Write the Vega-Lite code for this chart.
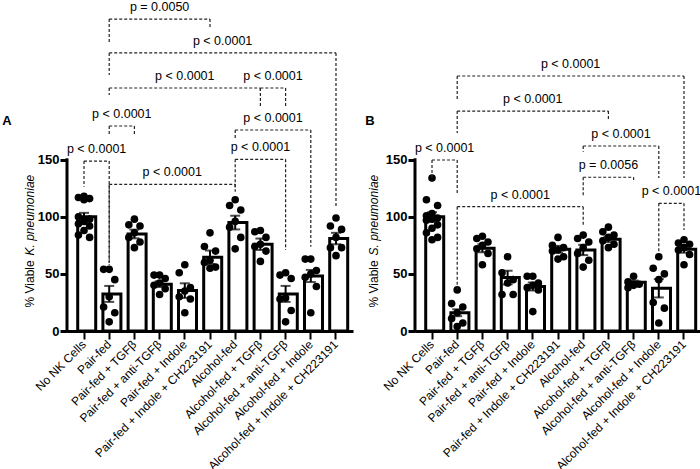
{
"$schema": "https://vega.github.io/schema/vega-lite/v6.json",
"padding": {"left": 2, "top": 0, "right": 0, "bottom": 5},
"config": {"view": {"stroke": null}, "font": "Liberation Sans", "axis": {"grid": false, "domainColor": "black", "tickColor": "black", "labelColor": "black", "titleColor": "black"}},
"spacing": 12,
"datasets": {
"summA": [
{"g": "No NK Cells", "mean": 100, "sem": 3.5},
{"g": "Pair-fed", "mean": 32.5, "sem": 7},
{"g": "Pair-fed + TGFβ", "mean": 85, "sem": 3.8},
{"g": "Pair-fed + anti-TGFβ", "mean": 41, "sem": 2.5},
{"g": "Pair-fed + Indole", "mean": 35.4, "sem": 6.4},
{"g": "Pair-fed + Indole + CH223191", "mean": 64.6, "sem": 5.9},
{"g": "Alcohol-fed", "mean": 95, "sem": 6},
{"g": "Alcohol-fed + TGFβ", "mean": 76, "sem": 5},
{"g": "Alcohol-fed + anti-TGFβ", "mean": 32.5, "sem": 7},
{"g": "Alcohol-fed + Indole", "mean": 48.2, "sem": 5.3},
{"g": "Alcohol-fed + Indole + CH223191", "mean": 81, "sem": 5}
],
"summB": [
{"g": "No NK Cells", "mean": 100, "sem": 4},
{"g": "Pair-fed", "mean": 16, "sem": 3},
{"g": "Pair-fed + TGFβ", "mean": 72.5, "sem": 3.5},
{"g": "Pair-fed + anti-TGFβ", "mean": 46.8, "sem": 6},
{"g": "Pair-fed + Indole", "mean": 39, "sem": 3.5},
{"g": "Pair-fed + Indole + CH223191", "mean": 71.6, "sem": 3},
{"g": "Alcohol-fed", "mean": 71, "sem": 4.5},
{"g": "Alcohol-fed + TGFβ", "mean": 80.4, "sem": 2.5},
{"g": "Alcohol-fed + anti-TGFβ", "mean": 42.7, "sem": 1.5},
{"g": "Alcohol-fed + Indole", "mean": 37.4, "sem": 8},
{"g": "Alcohol-fed + Indole + CH223191", "mean": 71.6, "sem": 3}
],
"ptsA": [
{"g": "No NK Cells", "v": 118}, {"g": "No NK Cells", "v": 117}, {"g": "No NK Cells", "v": 116}, {"g": "No NK Cells", "v": 115}, {"g": "No NK Cells", "v": 100}, {"g": "No NK Cells", "v": 98}, {"g": "No NK Cells", "v": 96}, {"g": "No NK Cells", "v": 94}, {"g": "No NK Cells", "v": 92}, {"g": "No NK Cells", "v": 88}, {"g": "No NK Cells", "v": 84}, {"g": "No NK Cells", "v": 82},
{"g": "Pair-fed", "v": 54}, {"g": "Pair-fed", "v": 54}, {"g": "Pair-fed", "v": 45}, {"g": "Pair-fed", "v": 30}, {"g": "Pair-fed", "v": 21}, {"g": "Pair-fed", "v": 16}, {"g": "Pair-fed", "v": 8},
{"g": "Pair-fed + TGFβ", "v": 98}, {"g": "Pair-fed + TGFβ", "v": 93}, {"g": "Pair-fed + TGFβ", "v": 92}, {"g": "Pair-fed + TGFβ", "v": 86}, {"g": "Pair-fed + TGFβ", "v": 82}, {"g": "Pair-fed + TGFβ", "v": 78}, {"g": "Pair-fed + TGFβ", "v": 73},
{"g": "Pair-fed + anti-TGFβ", "v": 49}, {"g": "Pair-fed + anti-TGFβ", "v": 49}, {"g": "Pair-fed + anti-TGFβ", "v": 46}, {"g": "Pair-fed + anti-TGFβ", "v": 42}, {"g": "Pair-fed + anti-TGFβ", "v": 40}, {"g": "Pair-fed + anti-TGFβ", "v": 37}, {"g": "Pair-fed + anti-TGFβ", "v": 32},
{"g": "Pair-fed + Indole", "v": 58}, {"g": "Pair-fed + Indole", "v": 51}, {"g": "Pair-fed + Indole", "v": 38}, {"g": "Pair-fed + Indole", "v": 35}, {"g": "Pair-fed + Indole", "v": 30}, {"g": "Pair-fed + Indole", "v": 28}, {"g": "Pair-fed + Indole", "v": 16},
{"g": "Pair-fed + Indole + CH223191", "v": 86}, {"g": "Pair-fed + Indole + CH223191", "v": 74}, {"g": "Pair-fed + Indole + CH223191", "v": 70}, {"g": "Pair-fed + Indole + CH223191", "v": 62}, {"g": "Pair-fed + Indole + CH223191", "v": 60}, {"g": "Pair-fed + Indole + CH223191", "v": 56}, {"g": "Pair-fed + Indole + CH223191", "v": 55},
{"g": "Alcohol-fed", "v": 115}, {"g": "Alcohol-fed", "v": 110}, {"g": "Alcohol-fed", "v": 106}, {"g": "Alcohol-fed", "v": 96}, {"g": "Alcohol-fed", "v": 91}, {"g": "Alcohol-fed", "v": 82}, {"g": "Alcohol-fed", "v": 72},
{"g": "Alcohol-fed + TGFβ", "v": 88}, {"g": "Alcohol-fed + TGFβ", "v": 87}, {"g": "Alcohol-fed + TGFβ", "v": 82}, {"g": "Alcohol-fed + TGFβ", "v": 76}, {"g": "Alcohol-fed + TGFβ", "v": 74}, {"g": "Alcohol-fed + TGFβ", "v": 70}, {"g": "Alcohol-fed + TGFβ", "v": 61},
{"g": "Alcohol-fed + anti-TGFβ", "v": 51}, {"g": "Alcohol-fed + anti-TGFβ", "v": 49}, {"g": "Alcohol-fed + anti-TGFβ", "v": 46}, {"g": "Alcohol-fed + anti-TGFβ", "v": 29}, {"g": "Alcohol-fed + anti-TGFβ", "v": 28}, {"g": "Alcohol-fed + anti-TGFβ", "v": 18}, {"g": "Alcohol-fed + anti-TGFβ", "v": 8},
{"g": "Alcohol-fed + Indole", "v": 63}, {"g": "Alcohol-fed + Indole", "v": 63}, {"g": "Alcohol-fed + Indole", "v": 53}, {"g": "Alcohol-fed + Indole", "v": 50}, {"g": "Alcohol-fed + Indole", "v": 47}, {"g": "Alcohol-fed + Indole", "v": 39}, {"g": "Alcohol-fed + Indole", "v": 16},
{"g": "Alcohol-fed + Indole + CH223191", "v": 99}, {"g": "Alcohol-fed + Indole + CH223191", "v": 92}, {"g": "Alcohol-fed + Indole + CH223191", "v": 89}, {"g": "Alcohol-fed + Indole + CH223191", "v": 82}, {"g": "Alcohol-fed + Indole + CH223191", "v": 73}, {"g": "Alcohol-fed + Indole + CH223191", "v": 73}, {"g": "Alcohol-fed + Indole + CH223191", "v": 66}
],
"ptsB": [
{"g": "No NK Cells", "v": 134}, {"g": "No NK Cells", "v": 115}, {"g": "No NK Cells", "v": 110}, {"g": "No NK Cells", "v": 103}, {"g": "No NK Cells", "v": 101}, {"g": "No NK Cells", "v": 99}, {"g": "No NK Cells", "v": 98}, {"g": "No NK Cells", "v": 97}, {"g": "No NK Cells", "v": 93}, {"g": "No NK Cells", "v": 90}, {"g": "No NK Cells", "v": 86}, {"g": "No NK Cells", "v": 82}, {"g": "No NK Cells", "v": 80},
{"g": "Pair-fed", "v": 36}, {"g": "Pair-fed", "v": 24}, {"g": "Pair-fed", "v": 21}, {"g": "Pair-fed", "v": 16}, {"g": "Pair-fed", "v": 11}, {"g": "Pair-fed", "v": 7}, {"g": "Pair-fed", "v": 4},
{"g": "Pair-fed + TGFβ", "v": 83}, {"g": "Pair-fed + TGFβ", "v": 81}, {"g": "Pair-fed + TGFβ", "v": 78}, {"g": "Pair-fed + TGFβ", "v": 75}, {"g": "Pair-fed + TGFβ", "v": 72}, {"g": "Pair-fed + TGFβ", "v": 68}, {"g": "Pair-fed + TGFβ", "v": 58},
{"g": "Pair-fed + anti-TGFβ", "v": 65}, {"g": "Pair-fed + anti-TGFβ", "v": 51}, {"g": "Pair-fed + anti-TGFβ", "v": 45}, {"g": "Pair-fed + anti-TGFβ", "v": 42}, {"g": "Pair-fed + anti-TGFβ", "v": 32}, {"g": "Pair-fed + anti-TGFβ", "v": 32},
{"g": "Pair-fed + Indole", "v": 48}, {"g": "Pair-fed + Indole", "v": 48}, {"g": "Pair-fed + Indole", "v": 42}, {"g": "Pair-fed + Indole", "v": 40}, {"g": "Pair-fed + Indole", "v": 38}, {"g": "Pair-fed + Indole", "v": 36}, {"g": "Pair-fed + Indole", "v": 17},
{"g": "Pair-fed + Indole + CH223191", "v": 82}, {"g": "Pair-fed + Indole + CH223191", "v": 75}, {"g": "Pair-fed + Indole + CH223191", "v": 73}, {"g": "Pair-fed + Indole + CH223191", "v": 71}, {"g": "Pair-fed + Indole + CH223191", "v": 70}, {"g": "Pair-fed + Indole + CH223191", "v": 65}, {"g": "Pair-fed + Indole + CH223191", "v": 63},
{"g": "Alcohol-fed", "v": 84}, {"g": "Alcohol-fed", "v": 81}, {"g": "Alcohol-fed", "v": 78}, {"g": "Alcohol-fed", "v": 73}, {"g": "Alcohol-fed", "v": 68}, {"g": "Alcohol-fed", "v": 62}, {"g": "Alcohol-fed", "v": 56},
{"g": "Alcohol-fed + TGFβ", "v": 91}, {"g": "Alcohol-fed + TGFβ", "v": 87}, {"g": "Alcohol-fed + TGFβ", "v": 84}, {"g": "Alcohol-fed + TGFβ", "v": 82}, {"g": "Alcohol-fed + TGFβ", "v": 79}, {"g": "Alcohol-fed + TGFβ", "v": 76}, {"g": "Alcohol-fed + TGFβ", "v": 73},
{"g": "Alcohol-fed + anti-TGFβ", "v": 48}, {"g": "Alcohol-fed + anti-TGFβ", "v": 43}, {"g": "Alcohol-fed + anti-TGFβ", "v": 41}, {"g": "Alcohol-fed + anti-TGFβ", "v": 40}, {"g": "Alcohol-fed + anti-TGFβ", "v": 38},
{"g": "Alcohol-fed + Indole", "v": 65}, {"g": "Alcohol-fed + Indole", "v": 55}, {"g": "Alcohol-fed + Indole", "v": 50}, {"g": "Alcohol-fed + Indole", "v": 45}, {"g": "Alcohol-fed + Indole", "v": 25}, {"g": "Alcohol-fed + Indole", "v": 20}, {"g": "Alcohol-fed + Indole", "v": 7},
{"g": "Alcohol-fed + Indole + CH223191", "v": 80}, {"g": "Alcohol-fed + Indole + CH223191", "v": 77}, {"g": "Alcohol-fed + Indole + CH223191", "v": 76}, {"g": "Alcohol-fed + Indole + CH223191", "v": 73}, {"g": "Alcohol-fed + Indole + CH223191", "v": 71}, {"g": "Alcohol-fed + Indole + CH223191", "v": 67}, {"g": "Alcohol-fed + Indole + CH223191", "v": 58}
],
"brA": [
{"from": 1, "to": 5, "top": 273.3, "l": 251.4, "r": 265.5, "label": "p = 0.0050"},
{"from": 1, "to": 10, "top": 243.6, "l": 224.3, "r": 108.6, "label": "p < 0.0001"},
{"from": 1, "to": 7, "top": 212.9, "l": 206.8, "r": 208.5, "label": "p < 0.0001"},
{"from": 7, "to": 8, "top": 212.9, "l": 197.1, "r": 197.1, "label": "p < 0.0001"},
{"from": 6, "to": 9, "top": 176.1, "l": 169.1, "r": 73.9, "label": "p < 0.0001"},
{"from": 6, "to": 8, "top": 150.4, "l": 125.3, "r": 71, "label": "p < 0.0001"},
{"from": 1, "to": 6, "top": 128.5, "l": 57.8, "r": 122, "label": "p < 0.0001"},
{"from": 0, "to": 1, "top": 148.9, "l": 126.4, "r": 59.6, "label": "p < 0.0001"},
{"from": 1, "to": 2, "top": 179.6, "l": 171.7, "r": 171.7, "label": "p < 0.0001"}
],
"brB": [
{"from": 1, "to": 10, "top": 223.4, "l": 202.4, "r": 134, "label": "p < 0.0001"},
{"from": 1, "to": 7, "top": 192.7, "l": 173.5, "r": 184.9, "label": "p < 0.0001"},
{"from": 6, "to": 9, "top": 162.1, "l": 157.1, "r": 134, "label": "p < 0.0001"},
{"from": 6, "to": 8, "top": 134.7, "l": 117.7, "r": 132.3, "label": "p = 0.0056"},
{"from": 1, "to": 6, "top": 108.9, "l": 35.9, "r": 92.9, "label": "p < 0.0001"},
{"from": 9, "to": 10, "top": 111.9, "l": 68.3, "r": 88.5, "label": "p < 0.0001"},
{"from": 0, "to": 1, "top": 149.8, "l": 130.8, "r": 119.2, "label": "p < 0.0001"}
]
},
"hconcat": [
{
"width": 286, "height": 331,
"title": {"text": "A", "orient": "left", "anchor": "end", "angle": 0, "fontSize": 13, "fontWeight": "bold", "offset": 2, "dy": 128, "baseline": "bottom", "align": "right", "color": "black"},
"layer": [
{"layer": [
{"data": {"name": "summA"},
"mark": {"type": "bar", "fill": "white", "stroke": "black", "strokeWidth": 3},
"encoding": {
"x": {"field": "g", "type": "nominal", "title": null, "scale": {"domain": ["No NK Cells","Pair-fed","Pair-fed + TGFβ","Pair-fed + anti-TGFβ","Pair-fed + Indole","Pair-fed + Indole + CH223191","Alcohol-fed","Alcohol-fed + TGFβ","Alcohol-fed + anti-TGFβ","Alcohol-fed + Indole","Alcohol-fed + Indole + CH223191"], "paddingInner": 0.5, "paddingOuter": 0.425, "round": false},
"axis": {"labelAngle": -45, "labelAlign": "right", "labelBaseline": "middle", "labelFontSize": 12, "labelPadding": 3, "tickSize": 8, "tickWidth": 2, "domainWidth": 3, "labelLimit": 300, "labelOverlap": false}},
"y": {"field": "mean", "type": "quantitative", "title": "% Viable", "scale": {"domain": [0, 290], "nice": false},
"axis": {"orient": "left", "values": [0, 50, 100, 150], "domain": false, "tickSize": 7, "tickWidth": 3, "labelFontSize": 13, "labelFontWeight": "bold", "labelPadding": 1, "titleFontSize": 12, "titleFontWeight": "normal", "titleAngle": 270, "titleAlign": "left", "titleBaseline": "middle", "titleX": -38, "titleY": 307}}
}},
{"data": {"name": "summA"},
"mark": {"type": "errorbar", "ticks": {"size": 10, "thickness": 2}, "rule": {"strokeWidth": 2}, "color": "black"},
"encoding": {"x": {"field": "g", "type": "nominal"}, "y": {"field": "mean", "type": "quantitative", "title": "% Viable"}, "yError": {"field": "sem"}}},
{"data": {"name": "ptsA"},
"transform": [{"window": [{"op": "row_number", "as": "r"}], "groupby": ["g"], "sort": [{"field": "v", "order": "descending"}]}, {"calculate": "datum.r % 3 == 0 ? 0.6 : (datum.r % 3 == 1 ? 0 : -0.6)", "as": "off"}],
"mark": {"type": "circle", "size": 58, "color": "black", "opacity": 1},
"encoding": {"x": {"field": "g", "type": "nominal"}, "xOffset": {"field": "off", "type": "quantitative", "scale": {"domain": [-1, 1], "range": [-3, 15.6]}}, "y": {"field": "v", "type": "quantitative", "title": "% Viable"}}}
]},
{"data": {"name": "brA"},
"transform": [{"calculate": "(datum.from + datum.to) / 2", "as": "mid"}],
"layer": [
{"mark": {"type": "rule", "strokeDash": [3, 2], "strokeWidth": 1.2, "color": "#222"},
"encoding": {"x": {"field": "from", "type": "quantitative", "scale": {"domain": [-0.675, 10.675], "nice": false, "zero": false}, "axis": null}, "x2": {"field": "to"}, "y": {"field": "top", "type": "quantitative", "axis": null}}},
{"mark": {"type": "rule", "strokeDash": [3, 2], "strokeWidth": 1.2, "color": "#222"},
"encoding": {"x": {"field": "from", "type": "quantitative", "axis": null}, "y": {"field": "top", "type": "quantitative", "axis": null}, "y2": {"field": "l"}}},
{"mark": {"type": "rule", "strokeDash": [3, 2], "strokeWidth": 1.2, "color": "#222"},
"encoding": {"x": {"field": "to", "type": "quantitative", "axis": null}, "y": {"field": "top", "type": "quantitative", "axis": null}, "y2": {"field": "r"}}},
{"mark": {"type": "text", "fontSize": 12.5, "dy": -8, "baseline": "alphabetic", "align": "center", "color": "black"},
"encoding": {"x": {"field": "mid", "type": "quantitative", "axis": null}, "y": {"field": "top", "type": "quantitative", "axis": null}, "text": {"field": "label"}}}
]},
{"data": {"values": [{}]},
"mark": {"type": "rule", "strokeWidth": 3, "color": "black", "strokeCap": "square"},
"encoding": {"x": {"value": 0}, "y": {"datum": 0, "type": "quantitative", "axis": {"orient": "left", "domain": false, "ticks": false, "labels": false, "title": "K. pneumoniae", "titleFontStyle": "italic", "titleFontSize": 12, "titleFontWeight": "normal", "titleAngle": 270, "titleAlign": "left", "titleBaseline": "middle", "titleX": -38, "titleY": 255}}, "y2": {"datum": 150}}}
],
"resolve": {"scale": {"x": "independent"}, "axis": {"y": "independent"}}
},
{
"width": 286, "height": 331,
"title": {"text": "B", "orient": "left", "anchor": "end", "angle": 0, "fontSize": 13, "fontWeight": "bold", "offset": -17, "dy": 128, "baseline": "bottom", "align": "right", "color": "black"},
"layer": [
{"layer": [
{"data": {"name": "summB"},
"mark": {"type": "bar", "fill": "white", "stroke": "black", "strokeWidth": 3},
"encoding": {
"x": {"field": "g", "type": "nominal", "title": null, "scale": {"domain": ["No NK Cells","Pair-fed","Pair-fed + TGFβ","Pair-fed + anti-TGFβ","Pair-fed + Indole","Pair-fed + Indole + CH223191","Alcohol-fed","Alcohol-fed + TGFβ","Alcohol-fed + anti-TGFβ","Alcohol-fed + Indole","Alcohol-fed + Indole + CH223191"], "paddingInner": 0.5, "paddingOuter": 0.425, "round": false},
"axis": {"labelAngle": -45, "labelAlign": "right", "labelBaseline": "middle", "labelFontSize": 12, "labelPadding": 3, "tickSize": 8, "tickWidth": 2, "domainWidth": 3, "labelLimit": 300, "labelOverlap": false}},
"y": {"field": "mean", "type": "quantitative", "title": "% Viable", "scale": {"domain": [0, 290], "nice": false},
"axis": {"orient": "left", "values": [0, 50, 100, 150], "domain": false, "tickSize": 7, "tickWidth": 3, "labelFontSize": 13, "labelFontWeight": "bold", "labelPadding": 1, "titleFontSize": 12, "titleFontWeight": "normal", "titleAngle": 270, "titleAlign": "left", "titleBaseline": "middle", "titleX": -42, "titleY": 307}}
}},
{"data": {"name": "summB"},
"mark": {"type": "errorbar", "ticks": {"size": 10, "thickness": 2}, "rule": {"strokeWidth": 2}, "color": "black"},
"encoding": {"x": {"field": "g", "type": "nominal"}, "y": {"field": "mean", "type": "quantitative", "title": "% Viable"}, "yError": {"field": "sem"}}},
{"data": {"name": "ptsB"},
"transform": [{"window": [{"op": "row_number", "as": "r"}], "groupby": ["g"], "sort": [{"field": "v", "order": "descending"}]}, {"calculate": "datum.r % 3 == 0 ? 0.6 : (datum.r % 3 == 1 ? 0 : -0.6)", "as": "off"}],
"mark": {"type": "circle", "size": 58, "color": "black", "opacity": 1},
"encoding": {"x": {"field": "g", "type": "nominal"}, "xOffset": {"field": "off", "type": "quantitative", "scale": {"domain": [-1, 1], "range": [-3, 15.6]}}, "y": {"field": "v", "type": "quantitative", "title": "% Viable"}}}
]},
{"data": {"name": "brB"},
"transform": [{"calculate": "(datum.from + datum.to) / 2", "as": "mid"}],
"layer": [
{"mark": {"type": "rule", "strokeDash": [3, 2], "strokeWidth": 1.2, "color": "#222"},
"encoding": {"x": {"field": "from", "type": "quantitative", "scale": {"domain": [-0.675, 10.675], "nice": false, "zero": false}, "axis": null}, "x2": {"field": "to"}, "y": {"field": "top", "type": "quantitative", "axis": null}}},
{"mark": {"type": "rule", "strokeDash": [3, 2], "strokeWidth": 1.2, "color": "#222"},
"encoding": {"x": {"field": "from", "type": "quantitative", "axis": null}, "y": {"field": "top", "type": "quantitative", "axis": null}, "y2": {"field": "l"}}},
{"mark": {"type": "rule", "strokeDash": [3, 2], "strokeWidth": 1.2, "color": "#222"},
"encoding": {"x": {"field": "to", "type": "quantitative", "axis": null}, "y": {"field": "top", "type": "quantitative", "axis": null}, "y2": {"field": "r"}}},
{"mark": {"type": "text", "fontSize": 12.5, "dy": -8, "baseline": "alphabetic", "align": "center", "color": "black"},
"encoding": {"x": {"field": "mid", "type": "quantitative", "axis": null}, "y": {"field": "top", "type": "quantitative", "axis": null}, "text": {"field": "label"}}}
]},
{"data": {"values": [{}]},
"mark": {"type": "rule", "strokeWidth": 3, "color": "black", "strokeCap": "square"},
"encoding": {"x": {"value": 0}, "y": {"datum": 0, "type": "quantitative", "axis": {"orient": "left", "domain": false, "ticks": false, "labels": false, "title": "S. pneumoniae", "titleFontStyle": "italic", "titleFontSize": 12, "titleFontWeight": "normal", "titleAngle": 270, "titleAlign": "left", "titleBaseline": "middle", "titleX": -42, "titleY": 255}}, "y2": {"datum": 150}}}
],
"resolve": {"scale": {"x": "independent"}, "axis": {"y": "independent"}}
}
]
}
